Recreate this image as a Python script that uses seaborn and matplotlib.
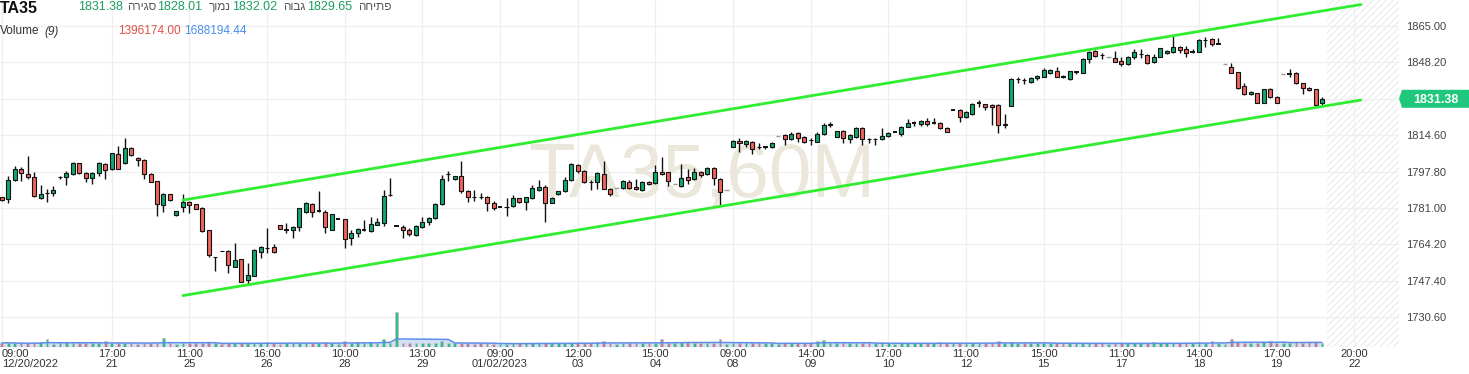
import numpy as np
import pandas as pd
import matplotlib
matplotlib.use("Agg")
import matplotlib.pyplot as plt
import seaborn as sns
from matplotlib.patches import Polygon
from matplotlib.transforms import blended_transform_factory

# ---------------- data ----------------
opens = [
    1785.9, 1785.1, 1793.7, 1798.8, 1796.5, 1795.1, 1785.7, 1787.7, 1787.7, 1795.1,
    1795.1, 1796.5, 1801.6, 1797.1, 1794.6, 1797.0, 1801.3, 1798.8, 1805.7, 1801.6,
    1808.5, 1804.2, 1803.0, 1796.5, 1793.3, 1782.2, 1787.3, 1777.6, 1781.3, 1783.7,
    1782.6, 1781.1, 1770.8, 1758.3, 1761.3, 1761.1, 1753.8, 1757.4, 1747.7, 1749.7,
    1760.8, 1762.6, 1762.9, 1772.9, 1770.9, 1770.9, 1772.3, 1779.2, 1782.6, 1779.6,
    1778.9, 1770.9, 1775.9, 1775.9, 1766.9, 1769.2, 1770.9, 1770.5, 1773.3, 1774.2,
    1787.0, 1772.8, 1772.3, 1770.8, 1768.3, 1772.0, 1774.3, 1776.2, 1782.7, 1796.6,
    1794.2, 1795.7, 1788.8, 1786.2, 1786.0, 1785.9, 1783.1, 1781.6, 1781.5, 1781.9,
    1785.4, 1783.6, 1785.4, 1789.3, 1790.8, 1783.4, 1787.3, 1788.8, 1793.9, 1800.8,
    1798.2, 1793.1, 1792.8, 1796.7, 1789.6, 1790.0, 1790.0, 1793.1, 1790.5, 1789.3,
    1792.8, 1792.4, 1797.7, 1797.4, 1791.9, 1791.1, 1795.4, 1794.4, 1797.4, 1796.5,
    1799.3, 1794.2, 1789.2, 1809.2, 1811.9, 1810.5, 1811.5, 1809.3, 1808.9, 1808.9,
    1814.3, 1814.6, 1812.6, 1815.7, 1813.8, 1812.4, 1811.5, 1815.1, 1819.5, 1813.9,
    1816.5, 1812.8, 1813.9, 1818.0, 1812.9, 1812.8, 1812.8, 1814.2, 1816.2, 1814.9,
    1818.5, 1820.0, 1819.6, 1821.1, 1820.0, 1820.0, 1817.7, 1826.2, 1826.2, 1823.1,
    1824.3, 1829.3, 1828.8, 1828.5, 1828.5, 1819.5, 1828.2, 1840.5, 1840.1, 1839.3,
    1840.8, 1841.6, 1843.2, 1844.2, 1841.7, 1840.5, 1843.9, 1843.5, 1849.6, 1853.5,
    1851.7, 1850.6, 1850.1, 1848.9, 1847.3, 1850.6, 1851.9, 1851.6, 1848.2, 1850.9,
    1852.4, 1852.9, 1855.5, 1854.2, 1853.2, 1853.2, 1858.6, 1858.9, 1856.7, 1847.3,
    1845.9, 1843.6, 1837.3, 1833.5, 1833.9, 1829.6, 1835.8, 1832.4, 1842.9, 1842.9,
    1843.5, 1838.5, 1836.2, 1835.8, 1829.65,
]
highs = [
    1786.2, 1795.7, 1800.3, 1800.0, 1805.0, 1797.7, 1791.4, 1789.7, 1791.1, 1795.7,
    1798.0, 1802.3, 1801.9, 1797.7, 1797.7, 1802.3, 1801.9, 1806.5, 1809.6, 1813.1,
    1809.0, 1804.7, 1803.4, 1797.0, 1793.6, 1787.7, 1787.4, 1779.7, 1787.4, 1784.0,
    1782.8, 1781.6, 1770.8, 1758.4, 1761.3, 1761.5, 1764.6, 1757.5, 1755.4, 1761.8,
    1763.4, 1771.5, 1764.2, 1773.2, 1774.2, 1772.5, 1781.1, 1783.9, 1783.1, 1788.8,
    1780.0, 1778.3, 1776.1, 1776.0, 1770.8, 1771.9, 1775.4, 1776.7, 1776.5, 1789.3,
    1794.7, 1773.0, 1773.1, 1771.6, 1773.1, 1776.7, 1776.7, 1783.1, 1796.2, 1798.2,
    1795.9, 1802.8, 1789.3, 1789.3, 1787.7, 1786.5, 1784.2, 1781.8, 1785.7, 1787.0,
    1785.6, 1786.2, 1791.6, 1793.9, 1791.6, 1786.2, 1789.0, 1795.4, 1801.6, 1801.1,
    1798.5, 1793.9, 1797.4, 1802.8, 1790.0, 1790.0, 1793.9, 1793.9, 1794.2, 1793.6,
    1793.6, 1800.8, 1804.4, 1797.7, 1791.9, 1801.1, 1798.8, 1799.3, 1798.1, 1800.1,
    1799.8, 1794.7, 1789.2, 1812.3, 1813.1, 1812.3, 1812.0, 1810.8, 1809.7, 1811.3,
    1814.3, 1814.9, 1815.9, 1816.2, 1814.2, 1813.4, 1815.9, 1820.0, 1820.5, 1816.7,
    1817.0, 1814.9, 1818.2, 1818.2, 1813.1, 1813.1, 1818.0, 1815.9, 1816.3, 1819.0,
    1821.9, 1821.3, 1821.6, 1822.4, 1822.4, 1820.5, 1818.2, 1826.3, 1826.5, 1825.7,
    1829.3, 1830.8, 1829.0, 1828.8, 1828.8, 1824.2, 1840.8, 1841.6, 1840.8, 1841.6,
    1842.4, 1845.8, 1845.0, 1846.2, 1842.4, 1844.2, 1844.4, 1850.1, 1853.6, 1853.9,
    1852.7, 1850.6, 1853.5, 1850.9, 1851.2, 1854.4, 1854.2, 1851.9, 1851.9, 1855.0,
    1853.9, 1860.6, 1855.9, 1855.8, 1854.2, 1858.9, 1859.8, 1859.3, 1859.3, 1847.3,
    1848.1, 1843.9, 1838.8, 1835.2, 1834.2, 1835.9, 1836.5, 1832.6, 1842.9, 1845.0,
    1843.6, 1838.8, 1836.7, 1836.0, 1832.02,
]
lows = [
    1784.3, 1783.4, 1793.4, 1793.6, 1794.5, 1786.2, 1785.3, 1783.6, 1786.5, 1794.5,
    1791.7, 1796.2, 1796.7, 1792.8, 1791.9, 1795.9, 1794.5, 1798.5, 1799.0, 1801.3,
    1805.0, 1800.5, 1794.2, 1792.8, 1777.4, 1779.2, 1784.3, 1777.2, 1779.2, 1778.8,
    1780.3, 1770.0, 1758.2, 1752.0, 1761.0, 1751.1, 1753.7, 1746.6, 1745.8, 1749.5,
    1757.8, 1760.3, 1760.3, 1771.2, 1769.5, 1767.2, 1770.5, 1778.5, 1776.9, 1779.1,
    1769.5, 1770.6, 1775.7, 1762.3, 1763.7, 1767.4, 1770.3, 1770.0, 1773.0, 1772.8,
    1786.7, 1772.6, 1766.9, 1768.0, 1768.0, 1771.6, 1773.1, 1775.7, 1782.3, 1793.6,
    1794.0, 1788.0, 1783.6, 1784.4, 1785.1, 1779.6, 1780.0, 1781.4, 1777.3, 1781.3,
    1783.4, 1780.0, 1785.1, 1789.0, 1774.6, 1783.1, 1787.0, 1788.5, 1793.6, 1797.0,
    1792.6, 1789.3, 1789.7, 1789.5, 1786.7, 1790.0, 1789.7, 1789.7, 1789.3, 1789.0,
    1791.6, 1791.9, 1796.2, 1791.1, 1791.9, 1790.5, 1792.1, 1793.9, 1795.1, 1796.2,
    1791.6, 1782.0, 1789.2, 1808.9, 1806.6, 1809.2, 1806.1, 1808.0, 1808.3, 1808.5,
    1814.3, 1810.0, 1812.3, 1811.6, 1811.1, 1810.0, 1811.3, 1814.6, 1818.5, 1813.6,
    1810.8, 1810.8, 1813.1, 1810.0, 1810.8, 1810.0, 1812.3, 1813.6, 1816.1, 1814.3,
    1818.2, 1818.8, 1818.8, 1819.0, 1819.6, 1817.3, 1815.9, 1826.1, 1820.8, 1822.4,
    1823.9, 1827.7, 1826.2, 1819.5, 1815.4, 1817.7, 1828.0, 1838.5, 1838.1, 1838.5,
    1840.1, 1841.3, 1842.9, 1841.3, 1840.8, 1840.1, 1842.9, 1843.2, 1848.1, 1850.6,
    1849.8, 1850.6, 1848.2, 1846.5, 1846.9, 1849.8, 1850.4, 1847.5, 1847.8, 1850.6,
    1852.2, 1852.6, 1852.4, 1850.9, 1852.4, 1852.9, 1855.5, 1855.9, 1856.5, 1847.3,
    1843.2, 1835.8, 1833.0, 1833.0, 1829.3, 1829.4, 1831.6, 1829.4, 1842.9, 1841.3,
    1838.2, 1833.6, 1835.2, 1828.0, 1828.01,
]
closes = [
    1784.6, 1793.7, 1798.8, 1797.0, 1795.1, 1786.6, 1787.3, 1787.8, 1789.1, 1795.2,
    1797.1, 1801.6, 1797.0, 1794.6, 1797.0, 1801.6, 1798.7, 1806.2, 1799.1, 1808.5,
    1805.3, 1803.0, 1796.5, 1793.1, 1782.6, 1787.4, 1784.6, 1779.6, 1783.7, 1782.2,
    1780.6, 1770.5, 1759.2, 1758.4, 1761.0, 1754.5, 1756.9, 1746.9, 1750.0, 1761.5,
    1762.9, 1762.7, 1760.5, 1771.4, 1770.9, 1772.2, 1780.8, 1783.3, 1779.2, 1779.6,
    1772.0, 1778.0, 1775.9, 1766.5, 1769.2, 1771.2, 1770.9, 1773.4, 1774.3, 1786.5,
    1787.1, 1772.8, 1770.8, 1768.8, 1772.8, 1774.3, 1776.2, 1782.8, 1794.2, 1796.7,
    1795.7, 1788.8, 1786.2, 1786.1, 1785.9, 1783.1, 1781.1, 1781.6, 1781.6, 1785.4,
    1783.6, 1785.9, 1790.0, 1790.5, 1783.4, 1785.4, 1788.8, 1793.9, 1801.1, 1798.2,
    1793.1, 1793.0, 1797.0, 1789.7, 1787.3, 1790.0, 1793.4, 1790.0, 1789.6, 1792.8,
    1791.9, 1797.4, 1796.5, 1793.4, 1791.9, 1795.0, 1793.9, 1797.4, 1796.2, 1799.3,
    1794.7, 1788.5, 1789.2, 1811.9, 1810.8, 1811.9, 1808.4, 1809.2, 1808.9, 1811.1,
    1814.3, 1812.6, 1815.1, 1813.4, 1811.5, 1812.3, 1815.1, 1819.3, 1819.6, 1816.5,
    1813.1, 1814.6, 1818.0, 1812.8, 1812.8, 1812.9, 1814.2, 1815.4, 1816.2, 1818.5,
    1820.0, 1820.0, 1821.1, 1819.6, 1820.0, 1817.7, 1816.2, 1826.2, 1823.1, 1825.1,
    1828.8, 1829.3, 1827.4, 1827.7, 1819.2, 1819.6, 1840.4, 1840.6, 1840.0, 1840.8,
    1841.9, 1844.7, 1844.7, 1841.6, 1841.6, 1844.0, 1844.0, 1849.6, 1852.9, 1851.3,
    1851.6, 1850.6, 1848.6, 1847.3, 1850.9, 1853.2, 1852.0, 1847.8, 1850.9, 1854.7,
    1853.5, 1855.5, 1853.9, 1852.7, 1853.2, 1858.6, 1858.7, 1856.6, 1856.7, 1847.3,
    1843.5, 1836.2, 1833.5, 1834.4, 1829.6, 1835.8, 1832.4, 1829.6, 1842.9, 1842.9,
    1838.5, 1836.2, 1835.5, 1828.5, 1831.38,
]
volumes_m = [  # millions
    1.5, 1.6, 1.3, 1.3, 1.3, 1.4, 1.7, 3.0, 1.2, 1.3,
    1.7, 1.4, 1.3, 1.3, 1.3, 1.4, 2.3, 1.4, 1.3, 1.6,
    1.3, 1.2, 1.3, 1.4, 1.6, 3.4, 1.3, 1.2, 1.3, 1.4,
    1.3, 1.4, 1.7, 1.3, 1.2, 1.3, 1.4, 1.3, 1.4, 1.5,
    1.4, 1.7, 1.3, 1.2, 1.6, 1.5, 1.4, 1.3, 1.4, 1.5,
    1.7, 1.3, 1.2, 2.1, 1.5, 1.7, 1.4, 1.7, 1.5, 3.0,
    1.3, 13.9, 1.6, 1.5, 1.4, 1.3, 1.4, 1.3, 2.3, 1.4,
    1.3, 1.4, 1.3, 1.2, 1.3, 1.3, 1.2, 1.1, 1.2, 1.3,
    1.3, 1.4, 1.3, 1.3, 1.5, 1.3, 1.3, 1.5, 1.5, 1.3,
    1.3, 1.4, 1.7, 2.2, 1.3, 1.2, 1.5, 1.3, 1.5, 1.4,
    1.3, 1.4, 3.0, 1.4, 1.3, 2.0, 1.7, 1.4, 1.5, 1.5,
    1.4, 3.0, 1.2, 1.4, 1.3, 1.3, 1.4, 1.3, 1.3, 1.4,
    1.2, 1.6, 1.5, 1.3, 1.3, 1.4, 2.2, 2.5, 1.4, 1.3,
    1.4, 1.3, 1.4, 1.4, 1.3, 1.3, 1.7, 1.3, 1.2, 1.4,
    1.3, 1.4, 1.3, 1.3, 1.6, 1.7, 1.3, 1.5, 1.4, 1.3,
    1.4, 1.3, 1.3, 1.6, 2.4, 1.4, 1.8, 1.3, 1.3, 1.3,
    1.4, 1.3, 1.3, 1.6, 1.3, 1.5, 1.3, 1.4, 1.4, 1.3,
    1.3, 1.2, 1.3, 1.4, 1.3, 1.4, 1.3, 1.4, 1.7, 1.3,
    1.3, 1.4, 1.3, 1.3, 1.4, 1.7, 1.5, 2.4, 1.4, 1.2,
    3.0, 1.7, 1.5, 1.4, 1.5, 1.7, 2.4, 1.6, 1.6, 1.5,
    1.7, 1.6, 1.7, 1.7, 1.396174,
]

# channel lines (bar index, price)
trend_bars = [28, 210]
trend_upper = [1784.6, 1874.9]
trend_lower = [1740.5, 1830.8]

price_ticks = [1730.6, 1747.4, 1764.2, 1781.0, 1797.8, 1814.6, 1831.4, 1848.2, 1865.0]
price_tick_labels = ["1730.60", "1747.40", "1764.20", "1781.00", "1797.80",
                     "1814.60", "", "1848.20", "1865.00"]
time_ticks = [0, 17, 29, 41, 53, 65, 77, 89, 101, 113, 125, 137, 149, 161, 173, 185, 197, 209]
time_tick_labels = ["09:00\n12/20/2022", "17:00\n21", "11:00\n25", "16:00\n26", "10:00\n28",
                    "13:00\n29", "09:00\n01/02/2023", "12:00\n03", "15:00\n04", "09:00\n08",
                    "14:00\n09", "17:00\n10", "11:00\n12", "15:00\n15", "11:00\n17",
                    "14:00\n18", "17:00\n19", "20:00\n22"]

header_open, header_high, header_low, header_close = "1829.65", "1832.02", "1828.01", "1831.38"
volume_now, volume_ma = "1396174.00", "1688194.44"
label_open, label_high, label_low, label_close = "פתיחה", "גבוה", "נמוך", "סגירה"

# ---------------- style ----------------
sns.set_theme(style="white")
plt.rcParams["font.family"] = ["Liberation Sans", "DejaVu Sans"]
plt.rcParams["hatch.linewidth"] = 0.7

GREEN = "#0fa96c"
RED = "#ef635a"
LIME = "#2fee2f"

W, H = 1469, 374
fig = plt.figure(figsize=(W / 100, H / 100), dpi=100)
ax_w = 1399 / W
ax_bottom, ax_h = (H - 346.7) / H, 346.7 / H
ax = fig.add_axes([0.0, ax_bottom, ax_w, ax_h])
ax.set_facecolor("white")

df = pd.DataFrame({"open": opens, "high": highs, "low": lows, "close": closes,
                   "volume": np.array(volumes_m) * 1e6})
df["bar"] = np.arange(len(df))

up = df.close > df.open
down = df.close < df.open
still = df.high == df.low
flat = (df.close == df.open) & ~still

XMIN, XMAX = -0.26, 215.9
YMIN, YMAX = 1716.9, 1877.0

# volume panel (twin axes, drawn behind nothing important)
ax2 = ax.twinx()

ax.set_xlim(XMIN, XMAX)
ax.set_ylim(YMIN, YMAX)

# hatched future region
ax.axvspan(204.75, XMAX, facecolor="none", edgecolor="#e9e9e9", hatch="/////",
           linewidth=0, zorder=0.2)

# watermark
ax.text(0.5018, 0.432, "TA35,60M", transform=ax.transAxes, ha="center", va="baseline",
        fontsize=55, color="#ece7db", family="Liberation Sans", zorder=0.6)

# candles
nv = df[~still]
ax.vlines(nv.bar, nv.low, nv.high, color="#111111", linewidth=1.0, zorder=2)
ax.bar(df.bar[up], (df.close - df.open)[up], bottom=df.open[up], width=0.62,
       color=GREEN, edgecolor="#111111", linewidth=0.8, zorder=3)
ax.bar(df.bar[down], (df.open - df.close)[down], bottom=df.close[down], width=0.62,
       color=RED, edgecolor="#111111", linewidth=0.8, zorder=3)
ax.hlines(df.close[flat], df.bar[flat] - 0.33, df.bar[flat] + 0.33, color="#111111",
          linewidth=1.4, zorder=3)
ax.hlines(df.close[still], df.bar[still] - 0.33, df.bar[still] + 0.33, color="#9a9a9a",
          linewidth=1.0, zorder=3)

# channel
sns.lineplot(x=trend_bars, y=trend_upper, ax=ax, color=LIME, linewidth=2.0, zorder=4)
sns.lineplot(x=trend_bars, y=trend_lower, ax=ax, color=LIME, linewidth=2.0, zorder=4)

# axes cosmetics
for s in ax.spines.values():
    s.set_visible(False)
ax.set_axisbelow(True)
ax.grid(True, color="#efefef", linewidth=0.9)
ax.set_yticks(price_ticks)
ax.set_yticklabels(price_tick_labels)
ax.set_xticks(time_ticks)
ax.set_xticklabels(time_tick_labels, linespacing=1.0)
ax.yaxis.tick_right()
ax.yaxis.set_label_position("right")
ax.tick_params(axis="y", which="both", left=False, right=False, labelleft=False,
               labelright=True, length=0, pad=5, labelsize=8, labelcolor="#444444")
ax.tick_params(axis="x", length=0, pad=2, labelsize=8, labelcolor="#333333")
ax.get_xticklabels()[0].set_horizontalalignment("left")
ax.set_xlabel("")
ax.set_ylabel("")

# price label box
tr = blended_transform_factory(ax.transAxes, ax.transData)
cy = float(closes[-1])
hh = 9.0 * (YMAX - YMIN) / 346.7
x0 = 1399.0 / 1399
x1 = 1402.0 / 1399
x2 = 1469.0 / 1399
poly = Polygon([(x0, cy), (x1, cy + hh), (x2, cy + hh), (x2, cy - hh), (x1, cy - hh)],
               closed=True, transform=tr, facecolor="#1ec77b", edgecolor="none",
               clip_on=False, zorder=6)
ax.add_patch(poly)
ax.text(1436.0 / 1399, cy, header_close, transform=tr, ha="center", va="center_baseline",
        color="white", fontsize=9, fontweight="bold", clip_on=False, zorder=7)

# volume
ax2.set_xlim(XMIN, XMAX)
ax2.set_ylim(0, 138.7e6)
ma = df.volume.rolling(9, min_periods=1).mean()
ax2.fill_between(df.bar, 0, ma, color="#b6ccf3", alpha=0.6, linewidth=0, zorder=1)
vcol = np.where(df.close >= df.open, "#1fb57a", "#c0708a")
ax2.bar(df.bar, df.volume, width=0.42, color=vcol, edgecolor="#c4c4c4",
        linewidth=0.6, alpha=0.9, zorder=2)
sns.lineplot(x=df.bar, y=ma, ax=ax2, color="#5b8ee8", linewidth=1.1, zorder=3)
ax2.axis("off")


# ---------------- header ----------------
def px(x, y):
    return x / W, 1 - y / H


def rtl(s):
    return s[::-1]


fig.text(*px(0, 13), "TA35", fontsize=11.5, fontweight="bold", color="#111111",
         ha="left", va="baseline")
hdr_green = "#1e9e60"
hdr_gray = "#555555"
fig.text(*px(78, 10.5), header_close, fontsize=9, color=hdr_green, va="baseline")
fig.text(*px(127, 10.5), rtl(label_close), fontsize=8.5, color=hdr_gray, va="baseline")
fig.text(*px(157, 10.5), header_low, fontsize=9, color=hdr_green, va="baseline")
fig.text(*px(209, 10.5), rtl(label_low), fontsize=8.5, color=hdr_gray, va="baseline")
fig.text(*px(232, 10.5), header_high, fontsize=9, color=hdr_green, va="baseline")
fig.text(*px(283, 10.5), rtl(label_high), fontsize=8.5, color=hdr_gray, va="baseline")
fig.text(*px(307, 10.5), header_open, fontsize=9, color=hdr_green, va="baseline")
fig.text(*px(358, 10.5), rtl(label_open), fontsize=8.5, color=hdr_gray, va="baseline")

fig.text(*px(0, 34.5), "Volume", fontsize=8.5, color="#333333", va="baseline")
fig.text(*px(44, 34.5), "(9)", fontsize=8.5, color="#333333", style="italic", va="baseline")
fig.text(*px(118, 34.5), volume_now, fontsize=8.5, color="#e0504c", va="baseline")
fig.text(*px(184, 34.5), volume_ma, fontsize=8.5, color="#4a8ef0", va="baseline")

fig.savefig("out.png", dpi=100)
